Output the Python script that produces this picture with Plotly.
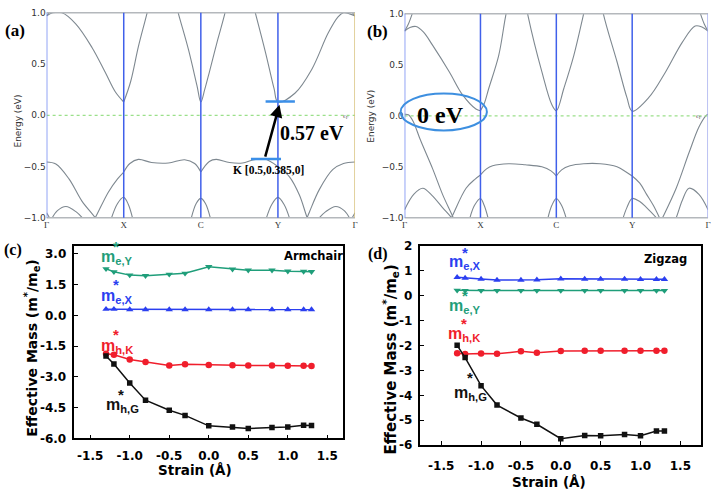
import plotly.graph_objects as go

W, H = 716, 492

# ---------------- data: band structures (k path: G=0, X=1, C=2, Y=3, G=4) -------------
KPATH_VALS = [0, 1, 2, 3, 4]
KPATH_TEXT = ["Γ", "X", "C", "Y", "Γ"]

BANDS_A = [
    ([0, 0.08, 0.2, 0.38, 0.59, 0.76, 0.89, 1.0], [0.97, 1.0, 1.0, 0.89, 0.66, 0.42, 0.23, 0.13]),
    ([1.0, 1.09, 1.19, 1.3, 1.4], [0.13, 0.33, 0.67, 0.99, 1.3]),
    ([1.6, 1.71, 1.84, 1.95, 2.0, 2.05, 2.11, 2.22, 2.31, 2.4], [1.3, 0.99, 0.64, 0.29, 0.13, 0.25, 0.42, 0.74, 0.99, 1.3]),
    ([2.6, 2.71, 2.84, 2.95, 3.0, 3.22, 3.44, 3.65, 3.78, 3.85, 3.93, 4.0], [1.3, 0.99, 0.61, 0.26, 0.13, 0.215, 0.45, 0.8, 0.96, 1.0, 0.99, 0.97]),
    ([0, 0.05, 0.1], [0.97, 1.02, 1.1]),
    ([3.9, 3.95, 4.0], [1.1, 1.02, 0.97]),
    ([0, 0.12, 0.29, 0.46, 0.63, 0.72], [-0.455, -0.475, -0.62, -0.84, -1.0, -1.12]),
    ([0.5, 0.63, 0.8, 0.92, 1.0], [-1.17, -1.0, -0.75, -0.62, -0.553]),
    ([1.0, 1.08, 1.19, 1.36, 1.58, 1.79, 1.92, 2.0], [-0.553, -0.47, -0.43, -0.46, -0.465, -0.433, -0.47, -0.553]),
    ([2.0, 2.11, 2.2, 2.37, 2.54, 2.69, 2.83, 3.0, 3.15, 3.28, 3.38, 3.45], [-0.553, -0.45, -0.43, -0.46, -0.465, -0.433, -0.427, -0.5, -0.6, -0.78, -1.0, -1.12]),
    ([3.3, 3.41, 3.54, 3.71, 3.85, 4.0], [-1.15, -0.94, -0.72, -0.53, -0.47, -0.455]),
    ([0.82, 0.92, 1.0, 1.06, 1.13], [-1.05, -0.86, -0.8, -0.87, -1.05]),
    ([1.86, 1.94, 2.0, 2.06, 2.14], [-1.05, -0.86, -0.81, -0.86, -1.05]),
    ([2.83, 2.92, 3.0, 3.08, 3.17], [-1.05, -0.87, -0.8, -0.87, -1.05]),
    ([0.05, 0.14, 0.25, 0.38, 0.5], [-1.03, -0.93, -0.89, -0.94, -1.03]),
    ([0, 0.06], [-0.95, -1.03]),
    ([3.5, 3.62, 3.75, 3.86, 3.95], [-1.03, -0.94, -0.89, -0.93, -1.03]),
    ([3.94, 4.0], [-1.03, -0.95]),
]

BANDS_B = [
    ([0, 0.07, 0.15, 0.25, 0.37, 0.59, 0.76, 0.94, 1.0], [0.83, 0.865, 0.876, 0.82, 0.69, 0.43, 0.21, 0.067, 0.05]),
    ([1.0, 1.05, 1.11, 1.24, 1.33, 1.42], [0.05, 0.12, 0.27, 0.59, 0.97, 1.3]),
    ([1.55, 1.63, 1.81, 1.94, 2.0, 2.1, 2.23, 2.36, 2.45], [1.3, 0.97, 0.43, 0.11, 0.05, 0.27, 0.59, 1.0, 1.3]),
    ([2.55, 2.62, 2.8, 2.93, 3.0, 3.22, 3.44, 3.66, 3.83, 3.92, 4.0], [1.3, 1.0, 0.53, 0.18, 0.045, 0.18, 0.43, 0.72, 0.88, 0.87, 0.83]),
    ([0, 0.05, 0.1, 0.15], [0.83, 0.9, 1.0, 1.12]),
    ([3.85, 3.9, 3.95, 4.0], [1.12, 1.0, 0.9, 0.83]),
    ([0, 0.05, 0.11, 0.21, 0.37, 0.5, 0.63, 0.7], [0.015, 0.01, -0.05, -0.24, -0.52, -0.77, -0.98, -1.1]),
    ([0.52, 0.63, 0.81, 0.93, 1.0], [-1.15, -0.98, -0.71, -0.62, -0.58]),
    ([1.0, 1.08, 1.16, 1.37, 1.59, 1.81, 1.93, 2.0], [-0.58, -0.52, -0.49, -0.47, -0.48, -0.5, -0.54, -0.59]),
    ([2.0, 2.07, 2.18, 2.36, 2.58, 2.8, 2.92, 3.0], [-0.59, -0.53, -0.49, -0.47, -0.47, -0.5, -0.55, -0.59]),
    ([3.0, 3.1, 3.19, 3.28, 3.36, 3.42], [-0.59, -0.66, -0.77, -0.88, -1.0, -1.1]),
    ([3.3, 3.4, 3.58, 3.75, 3.88, 3.97, 4.0], [-1.15, -1.0, -0.71, -0.36, -0.11, 0.0, 0.015]),
    ([0, 0.12, 0.24, 0.36, 0.5, 0.62, 0.7], [-0.92, -0.77, -0.71, -0.78, -0.9, -1.0, -1.08]),
    ([3.5, 3.58, 3.66, 3.75, 3.88, 4.0], [-1.12, -1.0, -0.83, -0.71, -0.77, -0.92]),
    ([0.85, 0.92, 1.0, 1.05, 1.11], [-1.03, -0.88, -0.81, -0.88, -1.03]),
    ([1.88, 1.94, 2.0, 2.07, 2.14], [-1.03, -0.88, -0.81, -0.88, -1.03]),
    ([2.86, 2.93, 3.0, 3.1, 3.19, 3.32, 3.38], [-1.05, -0.9, -0.81, -0.84, -0.9, -1.0, -1.05]),
]

# ---------------- data: effective masses ----------------
STRAIN = [-1.3, -1.2, -1.0, -0.8, -0.5, -0.3, 0.0, 0.3, 0.5, 0.8, 1.0, 1.2, 1.3]
C_MEY = [2.27, 2.12, 1.96, 1.93, 2.0, 2.05, 2.37, 2.25, 2.2, 2.2, 2.15, 2.14, 2.13]
C_MEX = [0.3, 0.3, 0.28, 0.28, 0.28, 0.28, 0.28, 0.28, 0.28, 0.28, 0.28, 0.28, 0.28]
C_MHK = [-1.88, -1.92, -2.15, -2.28, -2.45, -2.39, -2.42, -2.44, -2.45, -2.45, -2.46, -2.46, -2.47]
C_MHG = [-1.98, -2.37, -3.3, -4.14, -4.63, -4.88, -5.39, -5.45, -5.52, -5.47, -5.45, -5.36, -5.37]

D_MEX = [0.74, 0.71, 0.67, 0.63, 0.63, 0.64, 0.68, 0.67, 0.67, 0.67, 0.66, 0.66, 0.66]
D_MEY = [0.22, 0.21, 0.21, 0.21, 0.21, 0.21, 0.21, 0.21, 0.21, 0.21, 0.21, 0.21, 0.21]
D_MHK = [-2.31, -2.34, -2.32, -2.33, -2.23, -2.29, -2.22, -2.21, -2.21, -2.21, -2.21, -2.21, -2.21]
D_MHG = [-1.99, -2.48, -3.61, -4.39, -4.91, -5.16, -5.74, -5.61, -5.62, -5.57, -5.62, -5.43, -5.43]

STRAIN_TICKS = [-1.5, -1.0, -0.5, 0.0, 0.5, 1.0, 1.5]
STRAIN_TICKTEXT = ["-1.5", "-1.0", "-0.5", "0.0", "0.5", "1.0", "1.5"]
C_YTICKS = [-6.0, -4.5, -3.0, -1.5, 0.0, 1.5, 3.0]
C_YTICKTEXT = ["-6.0", "-4.5", "-3.0", "-1.5", "0.0", "1.5", "3.0"]
D_YTICKS = [-6, -5, -4, -3, -2, -1, 0, 1, 2]
D_YTICKTEXT = ["-6", "-5", "-4", "-3", "-2", "-1", "0", "1", "2"]
E_TICKS = [-1.0, -0.5, 0.0, 0.5, 1.0]

GREEN, BLUE, RED, BLACK = "#1f9e7a", "#2b3ff0", "#f01e2c", "#111111"
BANDCOL = "#7e8890"


def px(x):
    return x / W


def py(y):
    return 1 - y / H


fig = go.Figure()

# band structures
for bands, xa, ya in [(BANDS_A, "x", "y"), (BANDS_B, "x2", "y2")]:
    for k, e in bands:
        fig.add_trace(go.Scatter(x=k, y=e, mode="lines", xaxis=xa, yaxis=ya,
                                 line=dict(color=BANDCOL, width=1.1, shape="spline"),
                                 showlegend=False, hoverinfo="skip"))
    fig.add_trace(go.Scatter(x=[0, 4], y=[0, 0], mode="lines", xaxis=xa, yaxis=ya,
                             line=dict(color="#9be08a", width=1.2, dash="dot"),
                             showlegend=False, hoverinfo="skip"))

# effective masses
series = [
    ("x3", "y3", C_MEY, GREEN, "triangle-down"),
    ("x3", "y3", C_MEX, BLUE, "triangle-up"),
    ("x3", "y3", C_MHK, RED, "circle"),
    ("x3", "y3", C_MHG, BLACK, "square"),
    ("x4", "y4", D_MEX, BLUE, "triangle-up"),
    ("x4", "y4", D_MEY, GREEN, "triangle-down"),
    ("x4", "y4", D_MHK, RED, "circle"),
    ("x4", "y4", D_MHG, BLACK, "square"),
]
for xa, ya, vals, col, sym in series:
    fig.add_trace(go.Scatter(x=STRAIN, y=vals, mode="lines+markers", xaxis=xa, yaxis=ya,
                             line=dict(color=col, width=1.5),
                             marker=dict(symbol=sym, size=6.5 if sym != "square" else 5.5, color=col),
                             showlegend=False))

band_ax = dict(range=[0, 4], tickvals=KPATH_VALS, ticktext=KPATH_TEXT, showgrid=False,
               zeroline=False, showline=False, ticks="",
               tickfont=dict(family="Liberation Serif", size=9, color="#333"))
band_yax = dict(range=[-1, 1], tickvals=E_TICKS, tickformat=".1f", showgrid=False,
                zeroline=False, showline=False, ticks="",
                tickfont=dict(family="DejaVu Sans", size=9, color="#333"))

mass_font = dict(family="DejaVu Sans", size=12, color="black", weight="bold")
mass_x = dict(tickvals=STRAIN_TICKS, ticktext=STRAIN_TICKTEXT, showgrid=False, zeroline=False,
              showline=True, mirror=True, linecolor="black", linewidth=1.5,
              ticks="inside", ticklen=4, tickwidth=1.3, tickcolor="black", tickfont=mass_font)
mass_y = dict(showgrid=False, zeroline=False, showline=True, mirror=True, linecolor="black",
              linewidth=1.5, ticks="inside", ticklen=4, tickwidth=1.3, tickcolor="black",
              tickfont=mass_font, ticklabelstandoff=4)

fig.update_layout(
    width=W, height=H, margin=dict(l=0, r=0, t=0, b=0),
    paper_bgcolor="white", plot_bgcolor="white", showlegend=False,
    xaxis=dict(domain=[px(44), px(355)], anchor="y", **band_ax),
    yaxis=dict(domain=[py(217), py(6)], anchor="x", **band_yax),
    xaxis2=dict(domain=[px(405), px(711)], anchor="y2", **band_ax),
    yaxis2=dict(domain=[py(217), py(7)], anchor="x2", **band_yax),
    xaxis3=dict(domain=[px(72), px(343)], anchor="y3", range=[-1.7, 1.7],
                ticklabelstandoff=5, **mass_x),
    yaxis3=dict(domain=[py(444), py(246)], anchor="x3", range=[-6, 3.38],
                tickvals=C_YTICKS, ticktext=C_YTICKTEXT, **mass_y),
    xaxis4=dict(domain=[px(421), px(704)], anchor="y4", range=[-1.76, 1.76],
                ticklabelstandoff=9, **mass_x),
    yaxis4=dict(domain=[py(451), py(246)], anchor="x4", range=[-6, 2],
                tickvals=D_YTICKS, ticktext=D_YTICKTEXT, **mass_y),
)

shapes = []
# band frames
for xa, ya, x0p, x1p, y0p, y1p, rightcol in [("x", "y", 44, 355, 217, 6, "#d8c27c"),
                                            ("x2", "y2", 405, 711, 217, 7, "#a3acef")]:
    for yy in (y0p, y1p):
        shapes.append(dict(type="line", xref="paper", yref="paper", x0=px(x0p), x1=px(x1p),
                           y0=py(yy), y1=py(yy), line=dict(color="#b4b8bc", width=1.5)))
    for kv in KPATH_VALS:
        col = rightcol if kv == 4 else ("#6f86f2" if kv == 0 else "#4060ea")
        shapes.append(dict(type="line", xref=xa, yref=ya + " domain", x0=kv, x1=kv, y0=0, y1=1,
                           line=dict(color=col, width=1.5)))

# CBM / VBM markers in (a)
shapes.append(dict(type="line", xref="x", yref="y", x0=2.84, x1=3.22, y0=0.135, y1=0.135,
                   line=dict(color="#3b8fe8", width=2.5)))
shapes.append(dict(type="line", xref="x", yref="y", x0=2.65, x1=3.04, y0=-0.427, y1=-0.427,
                   line=dict(color="#3b8fe8", width=2.5)))
# ellipse in (b)
shapes.append(dict(type="circle", xref="paper", yref="paper", x0=px(401), x1=px(488),
                   y0=py(127), y1=py(89), line=dict(color="#3d8fe0", width=2)))
fig.update_layout(shapes=shapes)

ann = []


def txt(x, y, s, size, color="black", family="Liberation Serif", bold=True, angle=0,
        xanchor="center", yanchor="middle"):
    ann.append(dict(x=px(x), y=py(y), xref="paper", yref="paper", text=s, showarrow=False,
                    textangle=angle, xanchor=xanchor, yanchor=yanchor,
                    font=dict(family=family, size=size, color=color,
                              weight="bold" if bold else "normal")))


txt(12, 24, "(a)", 17)
txt(378, 25, "(b)", 17)
txt(10, 250, "(c)", 16)
txt(378, 254, "(d)", 16)

txt(15, 117, "Energy (eV)", 9, "#333", "DejaVu Sans", False, -90)
txt(371, 112, "Energy (eV)", 9, "#333", "DejaVu Sans", False, -90)
txt(346, 112, "ϵ<sub>F</sub>", 7, "#666", "Liberation Serif", False)
txt(702, 112, "ϵ<sub>F</sub>", 7, "#666", "Liberation Serif", False)

txt(312, 130, "0.57 eV", 20)
txt(268, 168, "K [0.5,0.385,0]", 11.5)
txt(441, 111, "0 eV", 24)

# arrow in (a)
ann.append(dict(x=3.02, y=0.104, ax=2.83, ay=-0.417, xref="x", yref="y", axref="x", ayref="y",
                text="", showarrow=True, arrowhead=2, arrowsize=1, arrowwidth=2.5,
                arrowcolor="black"))

# axis titles for (c), (d)
txt(29, 351, "Effective Mass (m<sup>*</sup>/m<sub>e</sub>)", 14, "black", "DejaVu Sans", True, -90)
txt(391, 363, "Effective Mass (m<sup>*</sup>/m<sub>e</sub>)", 15, "black", "DejaVu Sans", True, -90)
txt(194, 477, "Strain (Å)", 13.5, "black", "DejaVu Sans", True)
txt(551, 489, "Strain (Å)", 13.5, "black", "DejaVu Sans", True)
txt(313, 256, "Armchair", 11.5, "black", "DejaVu Sans", True)
txt(668, 259, "Zigzag", 11.5, "black", "DejaVu Sans", True)

# m* labels
labels = [
    (97, 258, 114, 247, "m<sub>e,Y</sub>", GREEN),
    (97, 298, 114, 286, "m<sub>e,X</sub>", BLUE),
    (97, 349, 114, 337, "m<sub>h,K</sub>", RED),
    (102, 410, 119, 399, "m<sub>h,G</sub>", BLACK),
    (448, 263, 466, 253, "m<sub>e,X</sub>", BLUE),
    (448, 308, 466, 297, "m<sub>e,Y</sub>", GREEN),
    (447, 337, 465, 326, "m<sub>h,K</sub>", RED),
    (453, 398, 471, 381, "m<sub>h,G</sub>", BLACK),
]
for mx, my, sx, sy, s, col in labels:
    txt(mx, my, s, 16, col, "Liberation Sans", True, xanchor="left")
    txt(sx, sy, "*", 15, col, "Liberation Sans", True)

fig.update_layout(annotations=ann)
fig.write_html("out.html")
